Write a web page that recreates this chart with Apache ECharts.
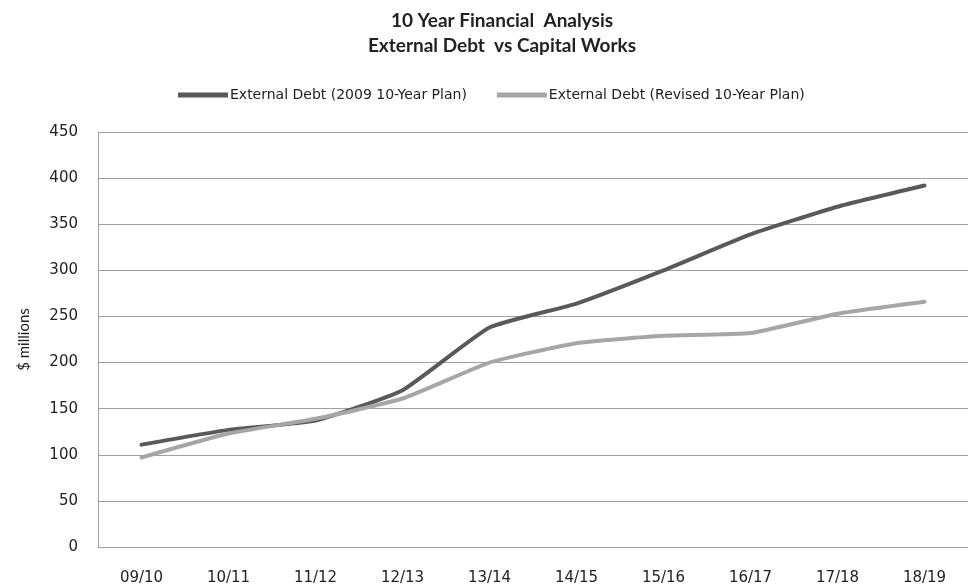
<!DOCTYPE html>
<html>
<head>
<meta charset="utf-8">
<script src="https://cdn.jsdelivr.net/npm/echarts@6/dist/echarts.min.js"></script>
<style>
  html,body{margin:0;padding:0;background:#fff;}
  #main{width:968px;height:587px;}
</style>
</head>
<body>
<div id="main"></div>
<script>
var years = ["09/10","10/11","11/12","12/13","13/14","14/15","15/16","16/17","17/18","18/19"];
var plan2009 = [111, 127, 137, 170, 238, 264, 300, 339, 369, 392];
var revised = [97, 123, 139, 161, 200, 221, 229, 232, 253, 266];
var yTicks = [0, 450, 50];

var myChart = echarts.init(document.getElementById('main'));
var option = {
    backgroundColor: '#fff',
    animation: false,
    title: {
        text: '10 Year Financial  Analysis\nExternal Debt  vs Capital Works',
        left: 497,
        textAlign: 'center',
        top: 3,
        textStyle: {
            fontFamily: 'Lato',
            fontSize: 19,
            fontWeight: 'bold',
            color: '#222',
            lineHeight: 25
        }
    },
    legend: {
        top: 83,
        left: 173,
        itemWidth: 50,
        itemHeight: 5,
        itemGap: 30,
        icon: 'rect',
        textStyle: {
            fontFamily: 'DejaVu Sans',
            fontSize: 14,
            color: '#222',
            padding: [0, 0, 0, -3]
        },
        data: ['External Debt (2009 10-Year Plan)', 'External Debt (Revised 10-Year Plan)']
    },
    grid: {
        left: 98,
        top: 132,
        width: 888,
        height: 415
    },
    xAxis: {
        type: 'category',
        data: years,
        boundaryGap: true,
        axisLine: {lineStyle: {color: '#a0a0a0', width: 1}},
        axisTick: {show: false},
        axisLabel: {
            margin: 24,
            fontFamily: 'DejaVu Sans',
            fontSize: 15,
            color: '#222'
        }
    },
    yAxis: {
        type: 'value',
        min: yTicks[0],
        max: yTicks[1],
        interval: yTicks[2],
        name: '$ millions',
        nameLocation: 'middle',
        nameGap: 66,
        nameTextStyle: {
            fontFamily: 'Lato',
            fontSize: 15,
            color: '#222'
        },
        axisLine: {show: true, lineStyle: {color: '#a0a0a0', width: 1}},
        axisTick: {show: false},
        axisLabel: {
            margin: 20,
            fontFamily: 'DejaVu Sans',
            fontSize: 15,
            color: '#222'
        },
        splitLine: {lineStyle: {color: '#a0a0a0', width: 1}}
    },
    series: [
        {
            name: 'External Debt (2009 10-Year Plan)',
            type: 'line',
            data: plan2009,
            smooth: 0.15,
            symbol: 'none',
            color: '#595959',
            lineStyle: {width: 4, color: '#595959', cap: 'round'}
        },
        {
            name: 'External Debt (Revised 10-Year Plan)',
            type: 'line',
            data: revised,
            smooth: 0.15,
            symbol: 'none',
            color: '#a6a6a6',
            lineStyle: {width: 4, color: '#a6a6a6', cap: 'round'}
        }
    ]
};
myChart.setOption(option);
</script>
</body>
</html>
